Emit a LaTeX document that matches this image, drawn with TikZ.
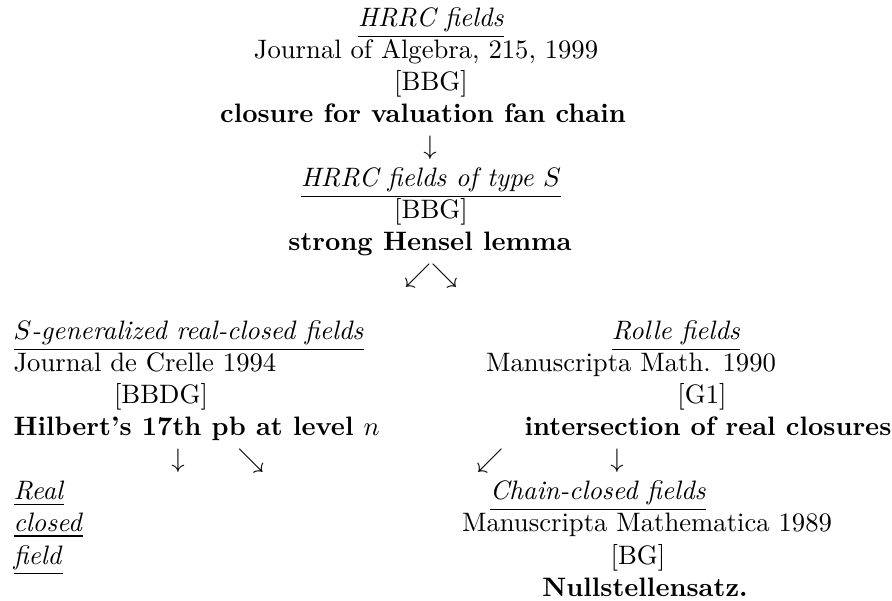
\documentclass[tikz,border=0pt]{standalone}
\usepackage{tikz}

\newcommand{\fieldname}[1]{\underline{\textit{#1}}}

\begin{document}
\begin{tikzpicture}[x = 0.375pt, y = -0.375pt,
    every node/.style = {inner sep = 0pt, anchor = base},
    lft/.style = {anchor = base west},
    thm/.style = {font = \bfseries}]
        \useasboundingbox (0,0) rectangle (892,601);
        % top chain
        \node (hrrc) at (431,27) {\fieldname{HRRC fields}};
        \node (hrrcjour) at (426,59) {Journal of Algebra, 215, 1999};
        \node (hrrcref) at (431,91) {[BBG]};
        \node[thm] (hrrcthm) at (423,123) {closure for valuation fan chain};
        \node (down1) at (430,155) {$\downarrow$};
        \node (typeS) at (431,187) {\fieldname{HRRC fields of type $S$}};
        \node (typeSref) at (431,219) {[BBG]};
        \node[thm] (typeSthm) at (430,251) {strong Hensel lemma};
        \node (split) at (431,283) {$\swarrow\searrow$};
        % left branch
        \node[lft] (sgen) at (13,340) {\fieldname{$S$-generalized real-closed fields}};
        \node[lft] (sgenjour) at (13,372) {Journal de Crelle 1994};
        \node (sgenref) at (161,404) {[BBDG]};
        \node[lft, thm] (sgenthm) at (13,436) {Hilbert's 17th pb at level $n$};
        \node (down2) at (178,468) {$\downarrow$};
        \node (diag1) at (251,468) {$\searrow$};
        \node[lft] (real) at (13,500) {\fieldname{Real}};
        \node[lft] (closed) at (13,532) {\fieldname{closed}};
        \node[lft] (field) at (13,564) {\fieldname{field}};
        % right branch
        \node (rolle) at (676,340) {\fieldname{Rolle fields}};
        \node (rollejour) at (631,372) {Manuscripta Math. 1990};
        \node (rolleref) at (702,404) {[G1]};
        \node[thm] (rollethm) at (708,436) {intersection of real closures};
        \node (diag2) at (490,468) {$\swarrow$};
        \node (down3) at (617,468) {$\downarrow$};
        \node (chain) at (598,500) {\fieldname{Chain-closed fields}};
        \node (chainjour) at (647,532) {Manuscripta Mathematica 1989};
        \node (chainref) at (638,564) {[BG]};
        \node[thm] (chainthm) at (645,596) {Nullstellensatz.};
\end{tikzpicture}
\end{document}
